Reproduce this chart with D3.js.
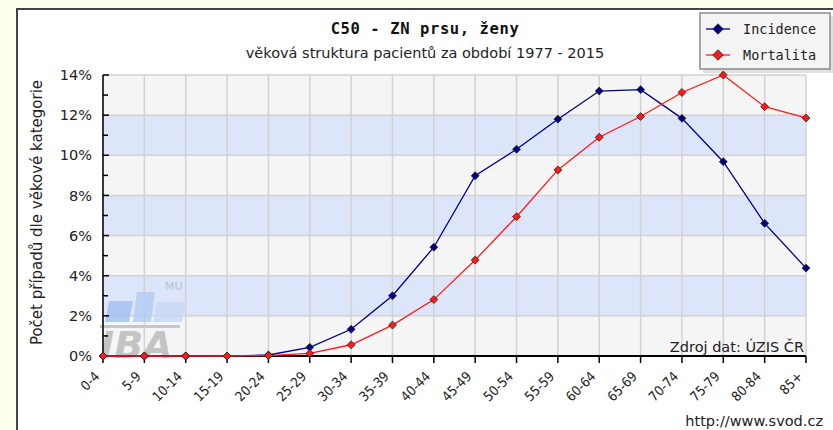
<!DOCTYPE html>
<html>
<head>
<meta charset="utf-8">
<script src="https://cdn.jsdelivr.net/npm/d3@7"></script>
<style>
  body { margin: 0; background: #ffffee; }
  svg { display: block; }
</style>
</head>
<body>
<div id="chart-area"></div>
<script>
// age groups
var ages = ["0-4", "5-9", "10-14", "15-19", "20-24", "25-29", "30-34", "35-39", "40-44",
            "45-49", "50-54", "55-59", "60-64", "65-69", "70-74", "75-79", "80-84", "85+"];

// share of cases per age group (%)
var incidence = [0, 0, 0, 0, 0.05, 0.43, 1.33, 3.0, 5.42, 8.98, 10.3, 11.8, 13.2, 13.27, 11.84, 9.68, 6.61, 4.38];
var mortalita = [0, 0, 0, 0, 0.02, 0.13, 0.56, 1.54, 2.81, 4.78, 6.94, 9.27, 10.9, 11.93, 13.13, 14.0, 12.42, 11.86];

var yTicks = [0, 2, 4, 6, 8, 10, 12, 14];
var yMinor = [1, 3, 5, 7, 9, 11, 13];

var series = [
  {name: "Incidence", values: incidence, color: "#000080"},
  {name: "Mortalita", values: mortalita, color: "#ff1a1a"}
];

var W = 833, H = 430;
var margin = {left: 103, right: 27, top: 75, bottom: 74};
var width = W - margin.left - margin.right,
    height = H - margin.top - margin.bottom;

var svg = d3.select("#chart-area").append("svg")
    .attr("width", W).attr("height", H);

// white panel
svg.append("rect")
    .attr("x", 17).attr("y", 9)
    .attr("width", W).attr("height", H)
    .attr("fill", "#ffffff")
    .attr("stroke", "#444")
    .attr("stroke-width", 2);

var g = svg.append("g")
    .attr("transform", "translate(" + margin.left + "," + margin.top + ")");

// scales
var x = d3.scalePoint().domain(ages).range([0, width]);
var y = d3.scaleLinear().domain([0, 14]).range([height, 0]);

// background bands
g.selectAll("rect.band")
    .data(d3.pairs(yTicks))
    .enter().append("rect")
    .attr("class", "band")
    .attr("x", 0)
    .attr("width", width)
    .attr("y", function(d){ return y(d[1]); })
    .attr("height", function(d){ return y(d[0]) - y(d[1]); })
    .attr("fill", function(d, i){ return i % 2 == 1 ? "#dde5fb" : "#f5f5f5"; });

// grid
g.selectAll("line.hgrid")
    .data(yTicks)
    .enter().append("line")
    .attr("x1", 0).attr("x2", width)
    .attr("y1", function(d){ return y(d); })
    .attr("y2", function(d){ return y(d); })
    .attr("stroke", "#d2d2d2").attr("stroke-width", 1.5);

g.selectAll("line.vgrid")
    .data(ages)
    .enter().append("line")
    .attr("x1", function(d){ return x(d); })
    .attr("x2", function(d){ return x(d); })
    .attr("y1", 0).attr("y2", height)
    .attr("stroke", "#d2d2d2").attr("stroke-width", 1.5);

// IBA watermark
var wm = g.append("g").attr("transform", "translate(0," + height + ")");
[[2, 24, -55, "#a6c1ee"], [30, 18, -64, "#b4ccf3"], [50, 29, -54, "#c8d8f6"]].forEach(function(b){
  var x0 = b[0], w = b[1], top = b[2];
  wm.append("path")
    .attr("d", "M" + (x0 + 4) + "," + top + " L" + (x0 + w + 4) + "," + top +
               " L" + (x0 + w) + ",-34 L" + x0 + ",-34 Z")
    .attr("fill", b[3])
    .attr("opacity", 0.85);
});
wm.append("rect").attr("x", -3).attr("y", -31).attr("width", 80).attr("height", 3)
    .attr("fill", "#c2c8cc");
wm.append("text")
    .attr("x", -3).attr("y", 2)
    .attr("font-family", "DejaVu Sans")
    .attr("font-weight", "bold")
    .attr("font-style", "italic")
    .attr("font-size", "38px")
    .attr("fill", "#c4c4c4")
    .text("IBA");
wm.append("text")
    .attr("x", 62).attr("y", -66)
    .attr("font-family", "DejaVu Sans")
    .attr("font-size", "11px")
    .attr("fill", "#b8c2d0")
    .text("MU");

// axes
var yAxis = g.append("g");
yAxis.append("line")
    .attr("x1", 0).attr("x2", 0).attr("y1", 0).attr("y2", height)
    .attr("stroke", "#000").attr("stroke-width", 1.5);
yAxis.selectAll("line.major")
    .data(yTicks).enter().append("line")
    .attr("x1", 0).attr("x2", 6)
    .attr("y1", function(d){ return y(d); })
    .attr("y2", function(d){ return y(d); })
    .attr("stroke", "#000").attr("stroke-width", 1.5);
yAxis.selectAll("line.minor")
    .data(yMinor).enter().append("line")
    .attr("x1", 0).attr("x2", 5)
    .attr("y1", function(d){ return y(d); })
    .attr("y2", function(d){ return y(d); })
    .attr("stroke", "#000").attr("stroke-width", 1.5);
yAxis.selectAll("text")
    .data(yTicks).enter().append("text")
    .attr("x", -11)
    .attr("y", function(d){ return y(d); })
    .attr("dy", "0.35em")
    .attr("text-anchor", "end")
    .attr("font-family", "DejaVu Sans")
    .attr("font-size", "14.5px")
    .attr("fill", "#222")
    .text(function(d){ return d + "%"; });

var xAxis = g.append("g").attr("transform", "translate(0," + height + ")");
xAxis.append("line")
    .attr("x1", 0).attr("x2", width)
    .attr("stroke", "#000").attr("stroke-width", 2);
xAxis.selectAll("line.tick")
    .data(ages).enter().append("line")
    .attr("x1", function(d){ return x(d); })
    .attr("x2", function(d){ return x(d); })
    .attr("y1", 0).attr("y2", 7)
    .attr("stroke", "#000").attr("stroke-width", 1.5);
xAxis.selectAll("text")
    .data(ages).enter().append("text")
    .attr("transform", function(d){
      return "translate(" + (x(d) - 6) + ",18) rotate(-45)";
    })
    .attr("text-anchor", "end")
    .attr("dy", "0.35em")
    .attr("font-family", "DejaVu Sans Condensed, DejaVu Sans")
    .attr("font-size", "13.5px")
    .attr("fill", "#222")
    .text(function(d){ return d; });

// lines and markers
var line = d3.line()
    .x(function(d, i){ return x(ages[i]); })
    .y(function(d){ return y(d); });

var diamond = d3.symbol().type(d3.symbolDiamond2).size(40);

series.forEach(function(s){
  g.append("path")
    .datum(s.values)
    .attr("d", line)
    .attr("fill", "none")
    .attr("stroke", s.color)
    .attr("stroke-width", 1.3);
});
series.forEach(function(s){
  g.selectAll("path.m-" + s.name)
    .data(s.values).enter().append("path")
    .attr("class", "m-" + s.name)
    .attr("d", diamond)
    .attr("transform", function(d, i){
      return "translate(" + x(ages[i]) + "," + y(d) + ")";
    })
    .attr("fill", s.color)
    .attr("stroke", "#222")
    .attr("stroke-width", 0.8);
});

// source note
g.append("text")
    .attr("x", width - 2).attr("y", height - 4)
    .attr("text-anchor", "end")
    .attr("font-family", "DejaVu Sans")
    .attr("font-size", "14.5px")
    .attr("fill", "#222")
    .text("Zdroj dat: ÚZIS ČR");

// titles
svg.append("text")
    .attr("x", 425).attr("y", 34)
    .attr("text-anchor", "middle")
    .attr("font-family", "DejaVu Sans Mono")
    .attr("font-weight", "bold")
    .attr("font-size", "15.5px")
    .attr("letter-spacing", "0.6px")
    .attr("fill", "#111")
    .text("C50 - ZN prsu, ženy");

svg.append("text")
    .attr("x", 425).attr("y", 58)
    .attr("text-anchor", "middle")
    .attr("font-family", "DejaVu Sans")
    .attr("font-size", "14.5px")
    .attr("fill", "#222")
    .text("věková struktura pacientů za období 1977 - 2015");

svg.append("text")
    .attr("transform", "translate(42," + (margin.top + height / 2 - 3) + ") rotate(-90)")
    .attr("text-anchor", "middle")
    .attr("font-family", "DejaVu Sans")
    .attr("font-size", "15px")
    .attr("fill", "#222")
    .text("Počet případů dle věkové kategorie");

svg.append("text")
    .attr("x", 823).attr("y", 426)
    .attr("text-anchor", "end")
    .attr("font-family", "DejaVu Sans")
    .attr("font-size", "14.5px")
    .attr("fill", "#222")
    .text("http://www.svod.cz");

// legend
var legend = svg.append("g").attr("transform", "translate(700,13)");
legend.append("rect")
    .attr("x", 3).attr("y", 3).attr("width", 131).attr("height", 57)
    .attr("fill", "#000").attr("opacity", 0.12);
legend.append("rect")
    .attr("x", 0).attr("y", 0).attr("width", 130).attr("height", 56)
    .attr("fill", "#f4f4f4")
    .attr("stroke", "#8a8a8a").attr("stroke-width", 1.5);

series.forEach(function(s, i){
  var row = legend.append("g").attr("transform", "translate(0," + (16 + i * 26) + ")");
  row.append("line")
    .attr("x1", 6).attr("x2", 30)
    .attr("stroke", s.color).attr("stroke-width", 1.3);
  row.append("path")
    .attr("d", d3.symbol().type(d3.symbolDiamond2).size(70))
    .attr("transform", "translate(18,0)")
    .attr("fill", s.color)
    .attr("stroke", "#222").attr("stroke-width", 0.8);
  row.append("text")
    .attr("x", 43).attr("y", 0)
    .attr("dy", "0.35em")
    .attr("font-family", "DejaVu Sans Mono")
    .attr("font-size", "13.5px")
    .attr("fill", "#222")
    .text(s.name);
});
</script>
</body>
</html>
